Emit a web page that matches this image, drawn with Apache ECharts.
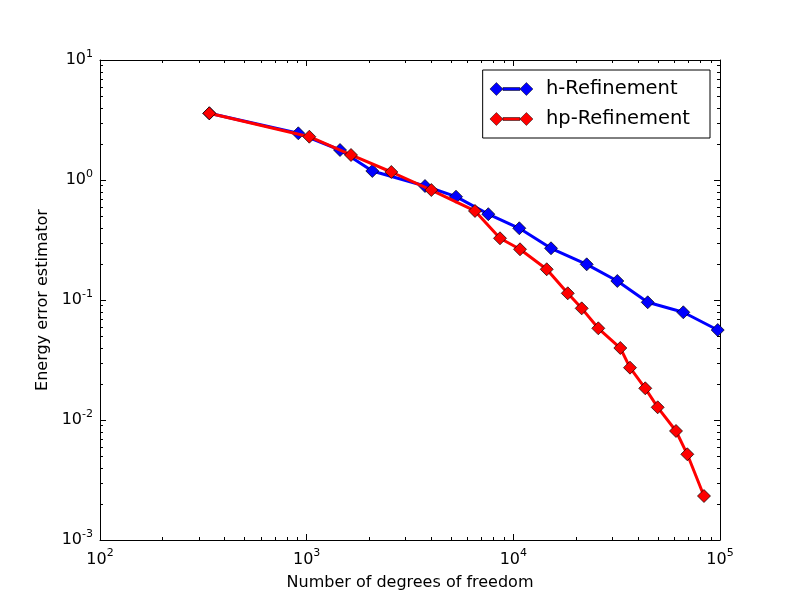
<!DOCTYPE html>
<html><head><meta charset="utf-8">
<script src="https://cdn.jsdelivr.net/npm/echarts@6/dist/echarts.min.js"></script>
<style>html,body{margin:0;padding:0;background:#fff}#c{width:800px;height:600px}</style>
</head><body><div id="c"></div>
<script>
const hDofs = [338, 911, 1450, 2078, 3737, 5280, 7566, 10688, 15215, 22647, 31855, 44687, 66446, 97480];
const hErr  = [3.596, 2.45, 1.778, 1.189, 0.891, 0.726, 0.519, 0.396, 0.2697, 0.1983, 0.144, 0.0957, 0.079, 0.0562];
const hpDofs = [338, 1030, 1639, 2568, 4010, 6523, 8619, 10772, 14505, 18334, 21420, 25773, 32936, 36682, 43496, 49942, 61249, 69474, 83650];
const hpErr  = [3.596, 2.295, 1.616, 1.166, 0.825, 0.552, 0.3268, 0.2646, 0.1803, 0.1137, 0.0852, 0.0581, 0.0398, 0.0273, 0.01837, 0.01276, 0.0081, 0.00518, 0.002326];
const xRange = [100, 100000];
const yRange = [0.001, 10];
const seriesNames = ['h-Refinement', 'hp-Refinement'];
const xLabel = 'Number of degrees of freedom';
const yLabel = 'Energy error estimator';

function minorValues(lo, hi) {
  const out = [];
  for (let e = Math.round(Math.log10(lo)); e < Math.round(Math.log10(hi)); e++) {
    for (let m = 2; m <= 9; m++) out.push(m * Math.pow(10, e));
  }
  return out;
}
const xMinor = minorValues(xRange[0], xRange[1]);
const yMinor = minorValues(yRange[0], yRange[1]);

const font = 'DejaVu Sans';
function powLabel(v) {
  const e = Math.round(Math.log10(v));
  return '{b|10}{s|' + e + '}';
}
const richLab = {
  b: {fontFamily: font, fontSize: 16, color: '#000'},
  s: {fontFamily: font, fontSize: 11, color: '#000', padding: [0, 0, 12, 0]}
};
const tickStyle = {show: true, inside: true, length: 6, lineStyle: {color: '#000', width: 1}};
function baseAxis(range, extra) {
  return Object.assign({
    type: 'log', logBase: 10, min: range[0], max: range[1],
    axisLine: {show: true, onZero: false, lineStyle: {color: '#000', width: 1}},
    axisTick: tickStyle, splitLine: {show: false}, minorTick: {show: false}
  }, extra);
}
const diamond = (c) => ({type: 'line', symbol: 'diamond', symbolSize: 13, showSymbol: true,
  lineStyle: {color: c, width: 3}, itemStyle: {color: c, borderColor: '#000', borderWidth: 0.7}, emphasis: {disabled: true}});

const legendIcon = 'path://M0,6.5 L6.5,0 L13,6.5 L6.5,13 Z M13,5 L30,5 L30,8 L13,8 Z M30,6.5 L36.5,0 L43,6.5 L36.5,13 Z';

const option = {
  animation: false,
  backgroundColor: '#fff',
  grid: {left: 100, right: 80, top: 60, bottom: 60},
  legend: {
    data: seriesNames, orient: 'vertical', right: 90, top: 70,
    backgroundColor: '#fff', borderColor: '#000', borderWidth: 1, borderRadius: 0,
    padding: [9, 20, 9, 7], itemGap: 10, itemWidth: 43, itemHeight: 13,
    icon: legendIcon,
    itemStyle: {borderColor: '#000', borderWidth: 0.5},
    textStyle: {fontFamily: font, fontSize: 19.5, color: '#000', padding: [0, 0, 0, 8]}
  },
  xAxis: [
    baseAxis(xRange, {position: 'bottom', name: xLabel, nameLocation: 'middle', nameGap: 35,
      nameTextStyle: {fontFamily: font, fontSize: 16, color: '#000'},
      axisLabel: {formatter: powLabel, rich: richLab, margin: 8}}),
    baseAxis(xRange, {position: 'top', axisLabel: {show: false}})
  ],
  yAxis: [
    baseAxis(yRange, {position: 'left', name: yLabel, nameLocation: 'middle', nameGap: 48,
      nameTextStyle: {fontFamily: font, fontSize: 16, color: '#000'},
      axisLabel: {formatter: powLabel, rich: richLab, margin: 7}}),
    baseAxis(yRange, {position: 'right', axisLabel: {show: false}})
  ],
  series: [
    Object.assign(diamond('#0000ff'), {name: seriesNames[0], data: hDofs.map((x, i) => [x, hErr[i]]), z: 3}),
    Object.assign(diamond('#ff0000'), {name: seriesNames[1], data: hpDofs.map((x, i) => [x, hpErr[i]]), z: 4}),
    {type: 'custom', name: 'xminor', silent: true, z: 1, data: xMinor.map(v => [v, 1]),
      renderItem: (p, api) => {
        const v = api.value(0);
        const b = api.coord([v, yRange[0]]), t = api.coord([v, yRange[1]]);
        const st = {stroke: '#000', lineWidth: 1};
        const x = Math.round(b[0]) + 0.5;
        return {type: 'group', children: [
          {type: 'line', shape: {x1: x, y1: b[1], x2: x, y2: b[1] - 3}, style: st},
          {type: 'line', shape: {x1: x, y1: t[1], x2: x, y2: t[1] + 3}, style: st}
        ]};
      }},
    {type: 'custom', name: 'yminor', silent: true, z: 1, data: yMinor.map(v => [1000, v]),
      renderItem: (p, api) => {
        const v = api.value(1);
        const l = api.coord([xRange[0], v]), r = api.coord([xRange[1], v]);
        const st = {stroke: '#000', lineWidth: 1};
        const y = Math.round(l[1]) + 0.5;
        return {type: 'group', children: [
          {type: 'line', shape: {x1: l[0], y1: y, x2: l[0] + 3, y2: y}, style: st},
          {type: 'line', shape: {x1: r[0], y1: y, x2: r[0] - 3, y2: y}, style: st}
        ]};
      }}
  ]
};
const chart = echarts.init(document.getElementById('c'), null, {renderer: 'canvas'});
chart.setOption(option);
</script></body></html>
